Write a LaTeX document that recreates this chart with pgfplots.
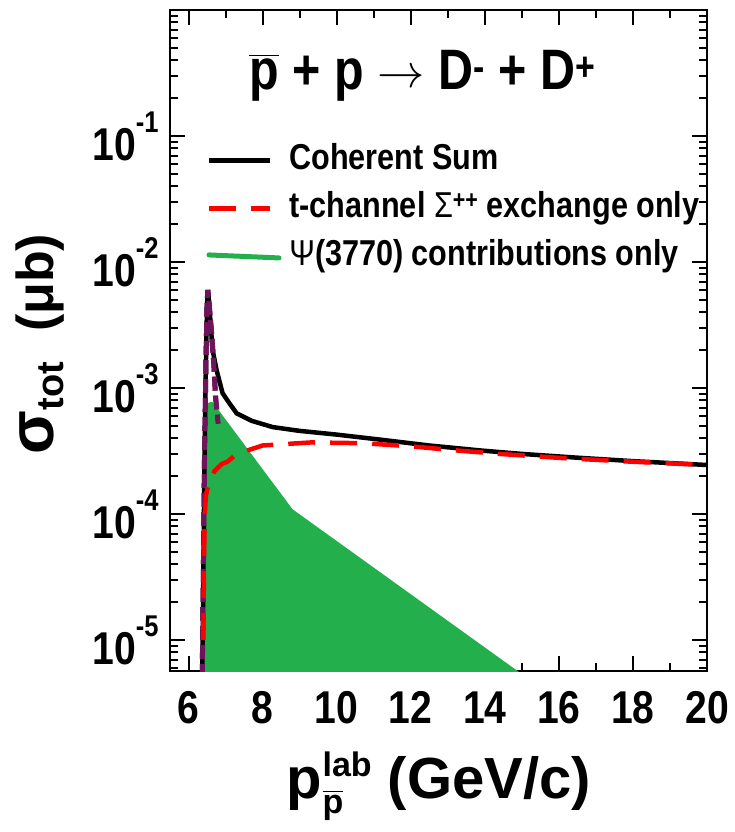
\documentclass[border=0pt]{standalone}
\usepackage{amsmath}
\usepackage{graphicx}
\usepackage{pgfplots}
\pgfplotsset{compat=1.18}
\usepackage{fontspec}
\setmainfont{Liberation Sans}[FakeStretch=0.85]
\newfontfamily\widefont{Liberation Sans}
\definecolor{mygreen}{RGB}{35,176,76}
\definecolor{mypurple}{RGB}{110,20,90}
\definecolor{myred}{RGB}{255,0,0}
\newcommand{\ex}[1]{10\raisebox{28pt}{\fontsize{30}{30}\selectfont -#1}}
\begin{document}
\begin{tikzpicture}[font=\bfseries]
\begin{axis}[
  scale only axis, width=537pt, height=661pt,
  xmin=5.5, xmax=20, ymode=log, ymin=5.68e-6, ymax=1,
  xtick={6,8,...,20}, minor xtick={7,9,...,19},
  ytick={1e-5,1e-4,1e-3,1e-2,1e-1},
  yticklabels={\ex{5},\ex{4},\ex{3},\ex{2},\ex{1}},
  minor ytick={6e-6,7e-6,8e-6,9e-6,
    2e-5,3e-5,4e-5,5e-5,6e-5,7e-5,8e-5,9e-5,
    2e-4,3e-4,4e-4,5e-4,6e-4,7e-4,8e-4,9e-4,
    2e-3,3e-3,4e-3,5e-3,6e-3,7e-3,8e-3,9e-3,
    2e-2,3e-2,4e-2,5e-2,6e-2,7e-2,8e-2,9e-2,
    2e-1,3e-1,4e-1,5e-1,6e-1,7e-1,8e-1,9e-1},
  /pgf/number format/assume math mode=true,
  axis line style={line width=2.5pt},
  major tick length=15pt, minor tick length=8pt,
  every tick/.style={black, line width=2pt},
  tick align=inside,
  xticklabel style={font=\fontsize{46}{46}\selectfont\bfseries, yshift=-17pt},
  yticklabel style={font=\fontsize{46}{46}\selectfont\bfseries, xshift=-8pt},
  xlabel={p\hspace{1pt}\raisebox{4pt}{\fontsize{34}{34}\selectfont\begin{tabular}[c]{@{}l@{}}lab\\[3pt]$\overline{\text{p}}$\end{tabular}}\hspace{16pt}(GeV/c)},
  xlabel style={font=\widefont\fontsize{58}{58}\selectfont\bfseries, anchor=base,
    at={(rel axis cs:0.5,0)}, yshift=-127pt},
  legend style={draw=none, fill=none, at={(rel axis cs:0.062,0.806)}, anchor=north west,
    font=\fontsize{36}{42}\selectfont\bfseries, row sep=8pt,
    nodes={text height=27pt, text depth=9pt}},
  legend cell align=left,
]
\addlegendimage{legend image code/.code={\draw[black, line width=4.5pt] (0pt,0pt) -- (61pt,0pt);}}
\addlegendentry{\hspace{6pt}Coherent Sum}
\addlegendimage{legend image code/.code={\draw[myred, line width=4.5pt, dash pattern=on 27pt off 15pt] (0pt,0pt) -- (61pt,0pt);}}
\addlegendentry{\hspace{6pt}t-channel {\mdseries Σ}\textsuperscript{++} exchange only}
\addlegendimage{legend image code/.code={\draw[mygreen, line width=5pt, line cap=round] (0pt,1.5pt) -- (70pt,-1.5pt);}}
\addlegendentry{\hspace{6pt}{\mdseries Ψ}(3770) contributions only}

% psi(3770) contribution curve (purple, dashed), mostly hidden by the green area
\addplot[mypurple, line width=5pt, dash pattern=on 14pt off 5pt, forget plot] coordinates {
(6.37,5e-6) (6.40,3.16e-5) (6.43,2.5e-4) (6.47,1.58e-3) (6.50,4.5e-3) (6.52,6.0e-3)
(6.56,4.5e-3) (6.62,2.8e-3) (6.68,1.6e-3) (6.73,8.5e-4) (6.80,5.2e-4) (7.10,3.0e-4)
(7.57,2.0e-4) (8.00,1.3e-4) (9.00,7.2e-5) (10.0,4.6e-5) (11.0,3.0e-5) (12.24,1.66e-5)
(13.1,1.07e-5) (14.0,7.1e-6) (14.95,4.5e-6)};

% green area
\addplot[draw=mygreen, fill=mygreen, line width=3pt, line join=round, forget plot] coordinates {
(6.38,4e-6) (6.40,2.5e-5) (6.51,7.3e-4) (6.62,7.6e-4) (8.78,1.07e-4) (15.25,4.6e-6)} -- cycle;

% coherent sum
\addplot[black, line width=4.5pt, forget plot] coordinates {
(6.37,5.0e-6) (6.40,3.16e-5) (6.43,2.5e-4) (6.47,1.58e-3) (6.50,4.5e-3) (6.52,6.0e-3)
(6.55,5.0e-3) (6.60,3.16e-3) (6.65,2.0e-3) (6.76,1.38e-3) (6.92,9.1e-4) (7.10,7.6e-4)
(7.30,6.3e-4) (7.70,5.5e-4) (8.27,4.9e-4) (9.00,4.57e-4) (10.0,4.27e-4) (11.16,3.9e-4)
(12.5,3.5e-4) (13.86,3.2e-4) (15.0,3.0e-4) (16.5,2.8e-4) (18.0,2.63e-4) (20.0,2.45e-4)};

% purple peak on top
\addplot[mypurple, line width=5pt, dash pattern=on 14pt off 5pt, forget plot] coordinates {
(6.37,5e-6) (6.40,3.16e-5) (6.43,2.5e-4) (6.47,1.58e-3) (6.50,4.5e-3) (6.52,6.0e-3)
(6.56,4.5e-3) (6.62,2.8e-3) (6.68,1.6e-3) (6.73,8.5e-4) (6.80,5.2e-4)};

% t-channel
\addplot[myred, line width=4.5pt, dash pattern=on 27pt off 15pt, forget plot] coordinates {
(6.40,1e-5) (6.42,5e-5) (6.44,1e-4) (6.47,1.41e-4) (6.55,1.78e-4) (6.70,2.19e-4)
(6.90,2.5e-4) (7.05,2.6e-4) (7.30,3.0e-4) (8.00,3.5e-4) (9.30,3.7e-4) (10.7,3.65e-4)
(12.0,3.45e-4) (13.0,3.24e-4) (14.4,3.0e-4) (16.1,2.78e-4) (18.0,2.6e-4) (20.0,2.45e-4)};

\node[font=\fontsize{57}{57}\selectfont\bfseries] at (rel axis cs:0.47,0.90)
  {$\overline{\text{p}}$ + p \raisebox{2pt}{\scalebox{1.9}{$\rightarrow$}} D\textsuperscript{-} + D\textsuperscript{+}};
\end{axis}
\path (current axis.south west) ++(-130pt,327pt)
  node[font=\widefont\fontsize{52}{52}\selectfont\bfseries, rotate=90, anchor=center]
  {{\fontsize{64}{64}\selectfont σ}\raisebox{-10pt}{\fontsize{38}{38}\selectfont tot}\hspace{30pt}(μb)};
\pgfresetboundingbox
\path[use as bounding box] ([shift={(-170pt,-161pt)}]current axis.south west) rectangle ++(735pt,832pt);
\end{tikzpicture}
\end{document}
